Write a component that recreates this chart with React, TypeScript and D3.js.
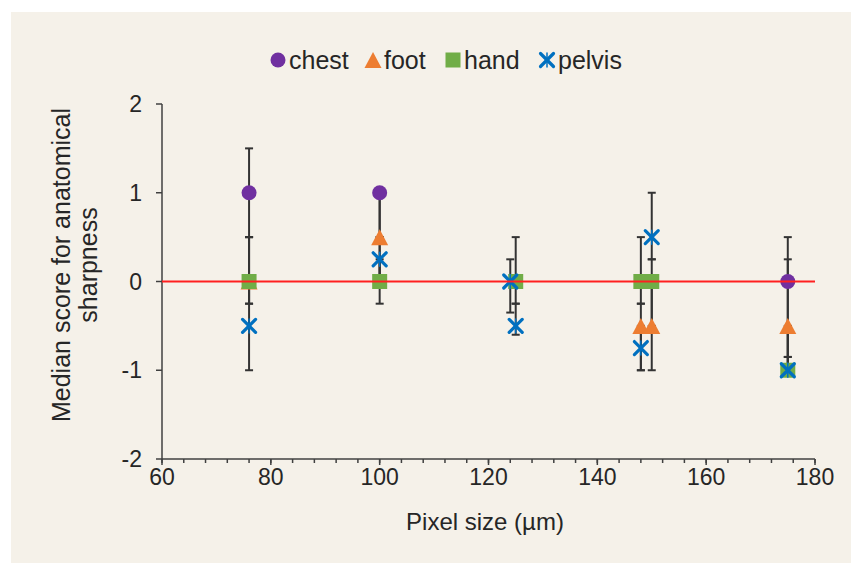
import React from 'react';
import * as d3 from 'd3';

// Pixel size (µm) and median scores
const chestX = [76, 100, 175];
const chestY = [1, 1, 0];
const chestLo = [0.5, 0.5, -0.85];
const chestHi = [1.5, 1, 0.5];

const footX = [76, 100, 148, 150, 175];
const footY = [0, 0.5, -0.5, -0.5, -0.5];
const footLo = [-0.25, 0, -1, -1, -1];
const footHi = [0.5, 1, -0.25, 0, 0.25];

const handX = [76, 100, 125, 148, 150, 175];
const handY = [0, 0, 0, 0, 0, -1];
const handLo = [-0.25, -0.25, -0.25, -0.25, -0.5, -1];
const handHi = [0.5, 0.25, 0.5, 0.5, 0.25, -0.5];

const pelvisX = [76, 100, 124, 125, 148, 150, 175];
const pelvisY = [-0.5, 0.25, 0, -0.5, -0.75, 0.5, -1];
const pelvisLo = [-1, 0, -0.35, -0.6, -1, 0.25, -1];
const pelvisHi = [0, 0.5, 0.25, -0.25, -0.5, 1, -0.85];

const xTicks = [60, 80, 100, 120, 140, 160, 180];
const yTicks = [-2, -1, 0, 1, 2];

const FONT = '"Liberation Sans", Arial, sans-serif';
const AXIS = '#404040';
const TEXT = '#262626';

type Pt = { x: number; y: number; lo: number; hi: number };
const zip = (xs: number[], ys: number[], lo: number[], hi: number[]): Pt[] =>
  xs.map((x, i) => ({ x, y: ys[i], lo: lo[i], hi: hi[i] }));

const series = [
  { name: 'chest', color: '#7030A0', shape: 'circle', pts: zip(chestX, chestY, chestLo, chestHi) },
  { name: 'foot', color: '#ED7D31', shape: 'triangle', pts: zip(footX, footY, footLo, footHi) },
  { name: 'hand', color: '#70AD47', shape: 'square', pts: zip(handX, handY, handLo, handHi) },
  { name: 'pelvis', color: '#0070C0', shape: 'star', pts: zip(pelvisX, pelvisY, pelvisLo, pelvisHi) },
];

function Marker({ shape, color, cx, cy }: { shape: string; color: string; cx: number; cy: number }) {
  if (shape === 'circle') return <circle cx={cx} cy={cy} r={7.5} fill={color} />;
  if (shape === 'triangle')
    return <path d={`M${cx},${cy - 8} L${cx + 8.5},${cy + 8} L${cx - 8.5},${cy + 8} Z`} fill={color} />;
  if (shape === 'square') return <rect x={cx - 7.5} y={cy - 7.5} width={15} height={15} fill={color} />;
  return (
    <g stroke={color} strokeWidth={3.2} strokeLinecap="round">
      <line x1={cx - 6.5} y1={cy - 6.5} x2={cx + 6.5} y2={cy + 6.5} />
      <line x1={cx - 6.5} y1={cy + 6.5} x2={cx + 6.5} y2={cy - 6.5} />
      <line x1={cx} y1={cy - 7} x2={cx} y2={cy + 7} strokeWidth={1.5} />
    </g>
  );
}

export default function App() {
  const width = 859;
  const height = 570;
  const x = d3.scaleLinear().domain([60, 180]).range([162, 815]);
  const y = d3.scaleLinear().domain([-2, 2]).range([459, 104]);
  const minorTicks = d3.range(60, 181, 4);

  const legendPos = [278, 373, 453, 547];

  return (
    <svg width={width} height={height} style={{ position: 'absolute', left: 0, top: 0 }} fontFamily={FONT}>
      <rect width={width} height={height} fill="#fff" />
      <rect x={11} y={12} width={840} height={551} fill="#F5F1E9" />

      {/* legend */}
      {series.map((s, i) => (
        <g key={s.name}>
          <Marker shape={s.shape} color={s.color} cx={legendPos[i]} cy={60} />
          <text x={legendPos[i] + 11} y={60} dy="0.35em" fontSize={25} fill={TEXT}>
            {s.name}
          </text>
        </g>
      ))}

      {/* axes */}
      <line x1={x(60)} x2={x(60)} y1={y(2)} y2={y(-2)} stroke={AXIS} strokeWidth={1.5} />
      <line x1={x(60)} x2={x(180)} y1={y(-2)} y2={y(-2)} stroke={AXIS} strokeWidth={1.5} />
      {yTicks.map((t) => (
        <g key={t}>
          <line x1={x(60) - 6} x2={x(60)} y1={y(t)} y2={y(t)} stroke={AXIS} strokeWidth={1.5} />
          <text x={x(60) - 20} y={y(t)} dy="0.35em" textAnchor="end" fontSize={23} fill={TEXT}>
            {t}
          </text>
        </g>
      ))}
      {minorTicks.map((t) => (
        <line key={t} x1={x(t)} x2={x(t)} y1={y(-2)} y2={y(-2) + 4} stroke={AXIS} strokeWidth={1.5} />
      ))}
      {xTicks.map((t) => (
        <g key={t}>
          <line x1={x(t)} x2={x(t)} y1={y(-2)} y2={y(-2) + 6} stroke={AXIS} strokeWidth={1.5} />
          <text x={x(t)} y={y(-2) + 26} textAnchor="middle" fontSize={23} fill={TEXT}>
            {t}
          </text>
        </g>
      ))}
      <text x={485} y={530} textAnchor="middle" fontSize={24} fill={TEXT}>
        Pixel size (µm)
      </text>
      <text transform="translate(70,265) rotate(-90)" textAnchor="middle" fontSize={25} fill={TEXT}>
        <tspan x={0} dy="0">Median score for anatomical</tspan>
        <tspan x={0} dy="1.08em">sharpness</tspan>
      </text>

      {/* error bars */}
      {series.map((s) =>
        s.pts.map((p, i) => (
          <g key={`${s.name}-e${i}`} stroke="#333" strokeWidth={2}>
            <line x1={x(p.x)} x2={x(p.x)} y1={y(p.lo)} y2={y(p.hi)} />
            <line x1={x(p.x) - 4} x2={x(p.x) + 4} y1={y(p.lo)} y2={y(p.lo)} />
            <line x1={x(p.x) - 4} x2={x(p.x) + 4} y1={y(p.hi)} y2={y(p.hi)} />
          </g>
        ))
      )}

      {/* markers */}
      {series.map((s) =>
        s.pts.map((p, i) => <Marker key={`${s.name}-m${i}`} shape={s.shape} color={s.color} cx={x(p.x)} cy={y(p.y)} />)
      )}

      {/* zero reference line */}
      <line x1={x(60)} x2={x(180)} y1={y(0)} y2={y(0)} stroke="#FF2020" strokeWidth={2} />
    </svg>
  );
}
